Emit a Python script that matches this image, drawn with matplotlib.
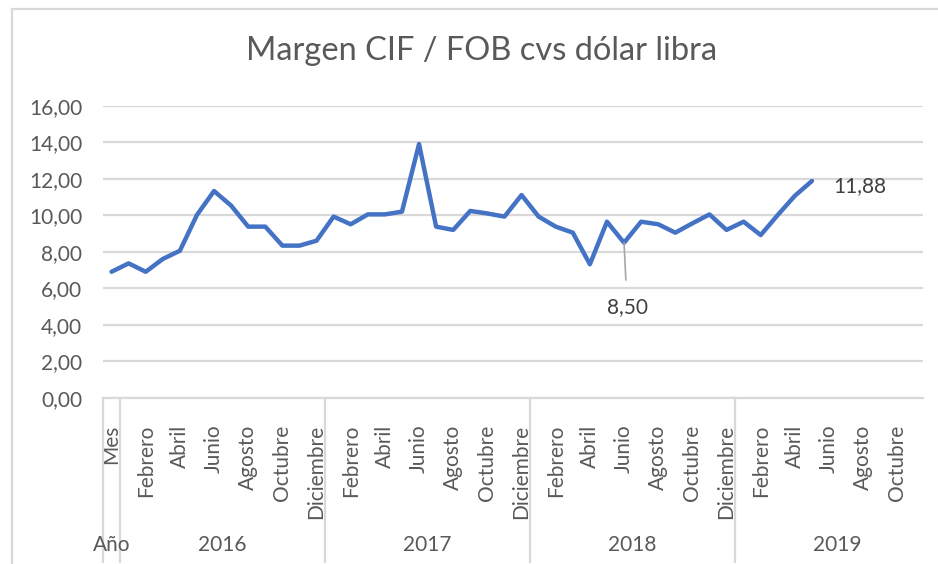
import matplotlib
matplotlib.use("Agg")
import matplotlib.pyplot as plt
from matplotlib.patches import Rectangle
import matplotlib.transforms as mtransforms

plt.rcParams['font.family'] = ['Lato', 'DejaVu Sans']

# datos (categoria 0 = cabecera "Mes"/"Año", luego meses desde enero 2016)
meses = ["Enero", "Febrero", "Marzo", "Abril", "Mayo", "Junio", "Julio",
         "Agosto", "Septiembre", "Octubre", "Noviembre", "Diciembre"]
anios = ["2016", "2017", "2018", "2019"]
margen = [6.91, 7.37, 6.91, 7.61, 8.06, 10.02, 11.33, 10.53, 9.38, 9.38,
          8.34, 8.34, 8.61, 9.93, 9.51, 10.05, 10.05, 10.20, 13.90, 9.38,
          9.20, 10.24, 10.10, 9.93, 11.11, 9.93, 9.38, 9.05, 7.32, 9.65,
          8.50, 9.65, 9.51, 9.05, 9.56, 10.05, 9.20, 9.65, 8.92, 10.02,
          11.07, 11.88]
etiquetas = {30: "8,50", 41: "11,88"}

n_cat = 48  # cabecera + 47 meses visibles
cat_labels = ["Mes"] + [meses[i % 12] for i in range(n_cat - 1)]

gris = '#595959'
grid_c = '#d9d9d9'
azul = '#4472C4'

fig = plt.figure(figsize=(9.38, 5.64), dpi=100)
W, H = 938, 564
ax = fig.add_axes([103 / W, 1 - 398 / H, 820 / W, 292.3 / H])

# borde del grafico
fig.patches.append(Rectangle((12 / W, -0.05), 1.0, 1 - 9 / H + 0.05,
                             transform=fig.transFigure, fill=False,
                             edgecolor=grid_c, lw=1.6))

ax.plot(range(len(margen)), margen, color=azul, lw=3.2,
        solid_joinstyle='round', solid_capstyle='round', zorder=3)

ax.set_xlim(-0.5, n_cat - 0.5)
ax.set_ylim(0, 16)
ax.set_yticks(range(0, 17, 2))
ax.set_yticklabels([f"{v:.2f}".replace('.', ',') for v in range(0, 17, 2)])
ax.yaxis.grid(True, color=grid_c, lw=1.6)
ax.set_axisbelow(True)
for s in ['top', 'right', 'left']:
    ax.spines[s].set_visible(False)
ax.spines['bottom'].set_color(grid_c)
ax.spines['bottom'].set_linewidth(1.6)

ax.tick_params(axis='y', length=0, pad=15, labelsize=15, labelcolor=gris)
ax.tick_params(axis='x', length=0, pad=19, labelsize=15, labelcolor=gris)
ticks = list(range(0, n_cat, 2))
ax.set_xticks(ticks)
ax.set_xticklabels([cat_labels[k] for k in ticks], rotation=90)

# separadores de grupos del eje de categorias
trans = mtransforms.blended_transform_factory(ax.transData, ax.transAxes)
bordes = [-0.5, 0.5] + [0.5 + 12 * (i + 1) for i in range(len(anios) - 1)]
for b in bordes:
    ax.plot([b, b], [0, -0.56], transform=trans, color=grid_c, lw=1.6,
            clip_on=False)

ax.text(0, -0.503, "Año", transform=trans, ha='center', va='center',
        fontsize=15, color=gris)
for i, a in enumerate(anios):
    ax.text(1 + 12 * i + 5.5, -0.503, a, transform=trans, ha='center',
            va='center', fontsize=15, color=gris)

# etiquetas de datos
k = 30
ax.annotate(etiquetas[k], xy=(k, margen[k]), xytext=(k + 0.18, margen[k] - 3.5),
            ha='center', va='center', fontsize=15, color='#404040',
            arrowprops=dict(arrowstyle='-', color='#a6a6a6', lw=1.2,
                            shrinkA=10, shrinkB=0))
k = 41
ax.text(k + 2.8, margen[k] - 0.3, etiquetas[k], ha='center', va='center',
        fontsize=15, color='#404040')

fig.text(482 / W, 1 - 51 / H, "Margen CIF / FOB cvs dólar libra",
         ha='center', va='center', fontsize=23.5, color=gris)

fig.savefig("out.png", dpi=100)
